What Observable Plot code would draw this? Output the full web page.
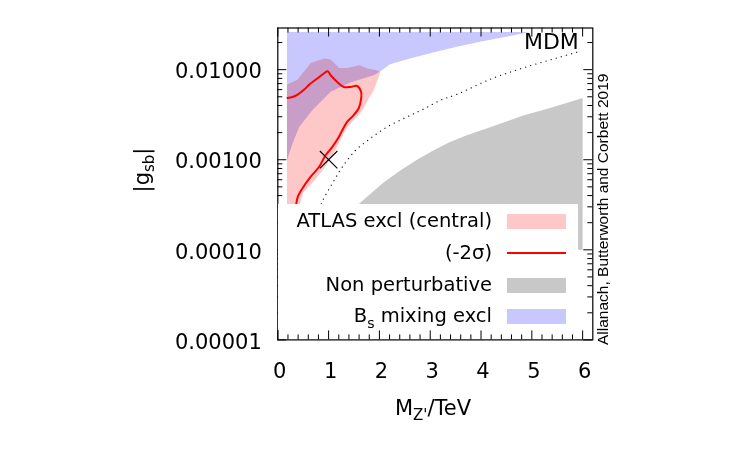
<!DOCTYPE html>
<html>
<head>
<meta charset="utf-8">
<script src="https://cdn.jsdelivr.net/npm/d3@7"></script>
<script src="https://cdn.jsdelivr.net/npm/@observablehq/plot@0.6"></script>
<style>
  body { margin: 0; background: #fff; }
  #chart { position: relative; width: 750px; height: 450px; }
  .key { position: absolute; left: 278px; top: 204px; width: 300px; height: 126px;
         background: #fff; font-family: "DejaVu Sans", sans-serif; font-size: 19.5px; color: #000; }
  .key .lab { position: absolute; left: 0; width: 214px; height: 30px; line-height: 30px;
              text-align: right; white-space: nowrap; }
  .key .sw { position: absolute; left: 229px; width: 59px; }
  .key sub { font-size: 14px; vertical-align: -6px; line-height: 0; }
</style>
</head>
<body>
<div id="chart"></div>
<script>
// Z' mass (TeV) and |g_sb| for each region of the MDM plane

// ATLAS exclusion (central), outline vertices
const atlasMass = [0.18, 0.18, 0.19, 0.39, 0.65, 0.91, 1.04, 1.21, 1.37, 1.57, 1.62, 1.76, 1.95, 2.02,
                   1.95, 1.89, 1.79, 1.69, 1.59, 1.46, 1.33, 1.13, 0.96, 0.72, 0.50, 0.43, 0.39, 0.37];
const atlasG    = [1.5e-4, 6.8e-3, 6.83e-3, 7.76e-3, 0.01187, 0.01328, 0.01295, 0.01045, 0.01045, 0.0111, 0.0112, 0.0103, 0.00985, 0.00943,
                   0.0073, 0.0059, 0.00477, 0.0037, 0.00311, 0.00262, 0.00212, 0.00127, 0.000867, 0.00059, 0.000434, 0.000311, 0.000212, 0.00015];

// ATLAS exclusion at -2 sigma (contour line)
const minus2Mass = [0.19, 0.29, 0.39, 0.52, 0.62, 0.75, 0.88, 0.98, 1.04, 1.17, 1.30, 1.43, 1.56, 1.64, 1.64,
                    1.59, 1.49, 1.36, 1.27, 1.20, 1.07, 0.94, 0.81, 0.64, 0.48, 0.39, 0.36, 0.34];
const minus2G    = [4.85e-3, 4.98e-3, 5.29e-3, 6.01e-3, 6.83e-3, 7.76e-3, 8.83e-3, 9.6e-3, 8.67e-3, 7.3e-3, 6.43e-3, 6.43e-3, 6.59e-3, 5.65e-3, 4.77e-3,
                    3.7e-3, 3.11e-3, 2.62e-3, 2.12e-3, 1.79e-3, 1.38e-3, 1.12e-3, 8.3e-4, 6.42e-4, 4.77e-4, 3.82e-4, 3.11e-4, 1.87e-4];

// Non-perturbative region, outline vertices
const nonPertMass = [1.0, 1.56, 2.08, 2.41, 2.74, 3.06, 3.39, 3.72, 4.11, 4.83, 5.36, 6.0, 6.0];
const nonPertG    = [1.0e-4, 3.11e-4, 5.6e-4, 7.6e-4, 1.0e-3, 1.27e-3, 1.57e-3, 1.87e-3, 2.22e-3, 3.09e-3, 3.75e-3, 4.85e-3, 1.0e-4];

// B_s mixing exclusion, outline vertices
const bsMass = [0.18, 4.96, 4.5, 4.0, 3.5, 3.0, 2.6, 2.21, 2.02, 1.9, 1.43, 1.04, 0.68, 0.42, 0.29, 0.18];
const bsG    = [0.0261, 0.0261, 0.0232, 0.0205, 0.0178, 0.0152, 0.0133, 0.0115, 0.0096, 0.0087, 0.0072, 0.0057, 0.00354, 0.00231, 0.00151, 0.000985];

// Dotted reference curve
const dotMass = [0.75, 0.87, 1.07, 1.27, 1.53, 1.82, 2.15, 2.54, 2.86, 3.20, 3.53, 4.18, 4.83, 5.50, 5.90];
const dotG    = [2.2e-4, 3.39e-4, 5.42e-4, 8.3e-4, 1.27e-3, 1.72e-3, 2.31e-3, 2.98e-3, 3.63e-3, 4.57e-3, 5.33e-3, 7.82e-3, 0.01045, 0.0135, 0.0157];

// Benchmark point
const benchMass = [1.0];
const benchG = [0.001];

// Axis ticks
const xMajor = [0, 1, 2, 3, 4, 5, 6];
const xMinor = d3.range(1, 31).map(i => i * 0.2).filter(v => Math.abs(v - Math.round(v)) > 1e-6);
const yMajor = [1e-5, 1e-4, 1e-3, 1e-2];
const yMinor = [];
for (const p of yMajor) for (let k = 2; k <= 9; k++) if (k * p < 0.029) yMinor.push(k * p);

const legendItems = [
  {label: "ATLAS excl (central)", color: "#ffc8c8", kind: "box"},
  {label: "(-2σ)", color: "#ff0000", kind: "line"},
  {label: "Non perturbative", color: "#c8c8c8", kind: "box"},
  {label: "B<sub>s</sub> mixing excl", color: "#c8c8ff", kind: "box"}
];

const rows = (ms, gs) => ms.map((m, i) => ({m, g: gs[i]}));

const W = 750, H = 450;
const M = {top: 27.5, right: 157.7, bottom: 110.6, left: 277.3};
const frameW = W - M.left - M.right;
const frameH = H - M.top - M.bottom;
const major = 9, minor = 5;

const chart = Plot.plot({
  width: W, height: H,
  marginTop: M.top, marginRight: M.right, marginBottom: M.bottom, marginLeft: M.left,
  style: {fontFamily: "DejaVu Sans, sans-serif", fontSize: "21px", background: "#fff", color: "#000"},
  x: {domain: [0, 6.2]},
  y: {type: "log", domain: [1e-5, 0.029]},
  marks: [
    Plot.line(rows(nonPertMass, nonPertG), {x: "m", y: "g", fill: "#c8c8c8", stroke: "none"}),
    Plot.line(rows(atlasMass, atlasG), {x: "m", y: "g", fill: "#ffc8c8", stroke: "none"}),
    // overlap with the ATLAS region shows as purple
    Plot.line(rows(bsMass, bsG), {x: "m", y: "g", fill: "#c8c8ff", stroke: "none", mixBlendMode: "multiply"}),
    Plot.line(rows(dotMass, dotG), {x: "m", y: "g", curve: "catmull-rom", stroke: "#222", strokeWidth: 1.3,
                                    strokeDasharray: "0.1,5.2", strokeLinecap: "round"}),
    Plot.line(rows(minus2Mass, minus2G), {x: "m", y: "g", curve: "catmull-rom", stroke: "#ff0000", strokeWidth: 2}),
    Plot.dot(rows(benchMass, benchG), {x: "m", y: "g", symbol: "times", r: 8, stroke: "#000", strokeWidth: 1.1}),
    Plot.text(["MDM"], {frameAnchor: "top-right", dx: -14, dy: 5, textAnchor: "end", lineAnchor: "top", fontSize: 22}),
    Plot.frame({stroke: "#000", strokeWidth: 1.2}),
    // inward ticks on all four sides
    Plot.ruleX(xMajor, {x: d => d, insetTop: frameH - major, stroke: "#000"}),
    Plot.ruleX(xMinor, {x: d => d, insetTop: frameH - minor, stroke: "#000"}),
    Plot.ruleX(xMajor, {x: d => d, insetBottom: frameH - major, stroke: "#000"}),
    Plot.ruleX(xMinor, {x: d => d, insetBottom: frameH - minor, stroke: "#000"}),
    Plot.ruleY(yMajor, {y: d => d, insetRight: frameW - major, stroke: "#000"}),
    Plot.ruleY(yMinor, {y: d => d, insetRight: frameW - minor, stroke: "#000"}),
    Plot.ruleY(yMajor, {y: d => d, insetLeft: frameW - major, stroke: "#000"}),
    Plot.ruleY(yMinor, {y: d => d, insetLeft: frameW - minor, stroke: "#000"}),
    Plot.axisX({ticks: xMajor, tickSize: 0, tickPadding: 23, dx: 2, tickFormat: d => String(d), label: null, fontSize: 21}),
    Plot.axisY({ticks: yMajor, tickSize: 0, tickPadding: 16, dy: 2, tickFormat: d => d.toFixed(5), label: null, fontSize: 21})
  ]
});

const svg = d3.select(chart);

// y-axis title |g_sb|
const yt = svg.append("text")
  .attr("transform", "translate(149,170) rotate(-90)")
  .attr("text-anchor", "middle")
  .attr("font-family", "DejaVu Sans, sans-serif").attr("font-size", 21).attr("fill", "#000");
yt.append("tspan").text("|g");
yt.append("tspan").attr("font-size", 15).attr("dy", 5).text("sb");
yt.append("tspan").attr("dy", -5).text("|");

// x-axis title M_Z'/TeV
const xt = svg.append("text")
  .attr("transform", "translate(433,415)")
  .attr("text-anchor", "middle")
  .attr("font-family", "DejaVu Sans, sans-serif").attr("font-size", 21).attr("fill", "#000");
xt.append("tspan").text("M");
xt.append("tspan").attr("font-size", 15).attr("dy", 5).text("Z'");
xt.append("tspan").attr("dy", -5).text("/TeV");

// author credit along the right edge
svg.append("text")
  .attr("transform", "translate(608,345) rotate(-90)")
  .attr("text-anchor", "start")
  .attr("font-family", "Liberation Sans, Arial, sans-serif").attr("font-size", 15.5).attr("fill", "#000")
  .text("Allanach, Butterworth and Corbett 2019");

const host = document.getElementById("chart");
host.appendChild(chart);

// key, drawn over the lower part of the plot area
const key = document.createElement("div");
key.className = "key";
const centers = [17, 48.7, 81, 112];
legendItems.forEach((d, i) => {
  const lab = document.createElement("div");
  lab.className = "lab";
  lab.style.top = (centers[i] - 15) + "px";
  lab.innerHTML = d.label;
  key.appendChild(lab);
  const sw = document.createElement("div");
  sw.className = "sw";
  const h = d.kind === "line" ? 2 : 15;
  sw.style.top = (centers[i] - h / 2) + "px";
  sw.style.height = h + "px";
  sw.style.background = d.color;
  key.appendChild(sw);
});
host.appendChild(key);
</script>
</body>
</html>
